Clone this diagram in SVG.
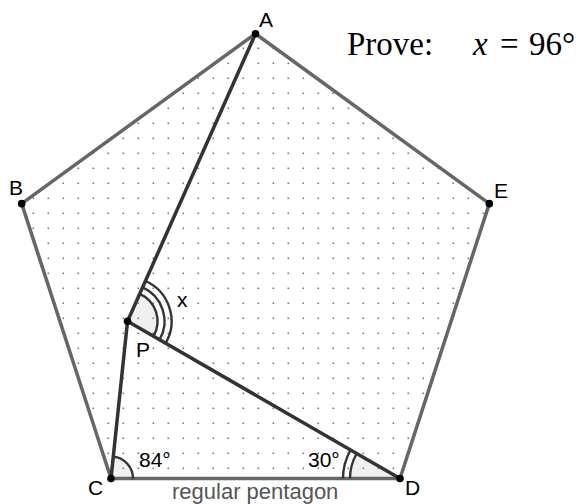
<svg xmlns="http://www.w3.org/2000/svg" width="581" height="504" viewBox="0 0 581 504">
<style>
.lbl{font-family:"Liberation Sans",Arial,sans-serif;font-size:21px;fill:#000}
.edge{fill:none;stroke:#666;stroke-width:3.5;stroke-linecap:round;stroke-linejoin:round}
.seg{fill:none;stroke:#333;stroke-width:3.5;stroke-linecap:round}
.arc{fill:none;stroke:#333;stroke-width:2.4}
.sector{fill:#999;fill-opacity:0.15;stroke:none}
.pt{fill:#000}
.tex{font-family:"Liberation Serif","Times New Roman",serif;font-size:33px;fill:#000}
</style>
<defs>
<pattern id="dots" patternUnits="userSpaceOnUse" x="0" y="0" width="15" height="15">
<rect x="2.5" y="2.5" width="1.6" height="1.6" fill="#777"/>
</pattern>
</defs>
<rect width="581" height="504" fill="#fff"/>
<g id="pentagon">
<polygon points="255.5,33.78 489.31,203.65 400,478.5 111,478.5 21.69,203.65" fill="url(#dots)"/>
</g>
<g id="angles">
<path class="sector" d="M127.534,321.192 L153.514,336.192 A30,30 0 0 0 139.736,293.786 Z"/>
<path class="sector" d="M111,478.5 L133,478.5 A22,22 0 0 0 113.3,456.62 Z"/>
<path class="sector" d="M400,478.5 L350,478.5 A50,50 0 0 1 356.70,453.5 Z"/>
</g>
<g id="connectors">
<polygon class="edge" points="255.5,33.78 489.31,203.65 400,478.5 111,478.5 21.69,203.65"/>
<line class="seg" x1="127.534" y1="321.192" x2="255.5" y2="33.78"/>
<line class="seg" x1="127.534" y1="321.192" x2="111" y2="478.5"/>
<line class="seg" x1="127.534" y1="321.192" x2="400" y2="478.5"/>
</g>
<g id="arcs">
<path class="arc" d="M153.514,336.192 A30,30 0 0 0 139.736,293.786"/>
<path class="arc" d="M159.576,339.692 A37,37 0 0 0 142.583,287.391"/>
<path class="arc" d="M165.639,343.192 A44,44 0 0 0 145.431,280.996"/>
<path class="arc" d="M133,478.5 A22,22 0 0 0 113.3,456.62"/>
<path class="arc" d="M350,478.5 A50,50 0 0 1 356.70,453.5"/>
<path class="arc" d="M343,478.5 A57,57 0 0 1 350.64,450"/>
</g>
<g id="A"><circle class="pt" cx="255.5" cy="33.78" r="3.8"/><text class="lbl" x="259" y="27">A</text></g>
<g id="B"><circle class="pt" cx="21.69" cy="203.65" r="3.8"/><text class="lbl" x="9" y="195">B</text></g>
<g id="E"><circle class="pt" cx="489.31" cy="203.65" r="3.8"/><text class="lbl" x="494" y="198">E</text></g>
<g id="C"><circle class="pt" cx="111" cy="478.5" r="3.8"/><text class="lbl" x="88" y="495">C</text></g>
<g id="D"><circle class="pt" cx="400" cy="478.5" r="3.8"/><text class="lbl" x="405" y="495">D</text></g>
<g id="P"><circle class="pt" cx="127.534" cy="321.192" r="3.8"/><text class="lbl" x="136" y="357">P</text></g>
<g id="labels">
<text class="lbl" x="177" y="307">x</text>
<text class="lbl" x="139" y="467">84°</text>
<text class="lbl" x="308" y="467">30°</text>
<text class="lbl" x="172" y="499" style="fill:#555;font-size:22px">regular pentagon</text>
<text class="tex" x="347" y="55">Prove:</text>
<text class="tex" x="473" y="55" font-style="italic">x</text>
<text class="tex" x="500" y="55">=</text>
<text class="tex" x="529" y="55">96°</text>
</g>
</svg>
